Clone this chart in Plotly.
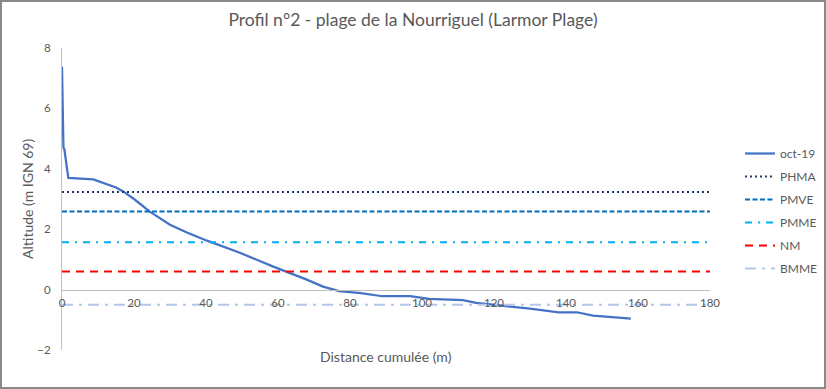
import plotly.graph_objects as go

# ---- data ----
distance = [0, 0.4, 0.65, 1.75, 8.7, 12, 15, 17, 20, 24.4, 30, 34.7, 40.3, 49.4, 58.7,
            68, 72.5, 77, 83, 89, 96.7, 102, 111.4, 115, 122.5, 130, 138, 143, 147.5, 153, 158]
altitude = [7.38, 4.7, 4.65, 3.7, 3.65, 3.52, 3.38, 3.25, 3.0, 2.58, 2.15, 1.89, 1.62, 1.22, 0.76,
            0.33, 0.1, -0.05, -0.12, -0.22, -0.22, -0.31, -0.35, -0.44, -0.53, -0.63, -0.75, -0.75, -0.86, -0.9, -0.96]
series_name = "oct-19"

level_names = ["PHMA", "PMVE", "PMME", "NM", "BMME"]
level_values = [3.23, 2.59, 1.57, 0.6, -0.5]
level_span = [0, 180]

x_ticks = list(range(0, 181, 20))
y_ticks = list(range(-2, 9, 2))

title = "Profil n°2 - plage de la Nourriguel (Larmor Plage)"
x_title = "Distance cumulée (m)"
y_title = "Altitude (m IGN 69)"

# ---- styles ----
FONT = "Lato, Carlito, Calibri, sans-serif"
TXT = "#595959"
level_styles = {
    "PHMA": dict(color="#203864", dash="2px,3px", width=2),
    "PMVE": dict(color="#0070C0", dash="5px,2.5px", width=2),
    "PMME": dict(color="#00B0F0", dash="7px,6px,2px,6px", width=2),
    "NM": dict(color="#FF0000", dash="8px,6px", width=2),
    "BMME": dict(color="#B4C7E7", dash="11px,6px,3px,6px", width=2),
}

W, H = 826, 389
L, R, T, B = 62, 116, 48, 39
pw, ph = W - L - R, H - T - B

def px_x(px):
    return (px - L) / pw

def px_y(py):
    return (H - B - py) / ph

fig = go.Figure()
fig.add_trace(go.Scatter(x=distance, y=altitude, mode="lines", name=series_name,
                         line=dict(color="#4472C4", width=2.25), legendgroup=series_name))
for name, val in zip(level_names, level_values):
    fig.add_trace(go.Scatter(x=level_span, y=[val, val], mode="lines", name=name,
                             line=level_styles[name], legendgroup=name))

ymin, ymax = y_ticks[0], y_ticks[-1]

fig.update_layout(
    width=W, height=H,
    margin=dict(l=L, r=R, t=T, b=B, autoexpand=False),
    paper_bgcolor="white", plot_bgcolor="white",
    font=dict(family=FONT, color=TXT),
    title=dict(text=title, x=0.5, xanchor="center", xref="container",
               y=1 - 20 / H, yanchor="middle", yref="container",
               font=dict(size=17.5, color=TXT, family=FONT)),
    xaxis=dict(range=[x_ticks[0], x_ticks[-1]], tickvals=x_ticks, showgrid=False,
               zeroline=False, showline=True, linecolor="#BFBFBF", linewidth=1,
               anchor="free", position=(0 - ymin) / (ymax - ymin), automargin=False,
               ticks="outside", ticklen=3, tickcolor="rgba(0,0,0,0)",
               tickfont=dict(size=11.5, color=TXT)),
    yaxis=dict(range=[ymin, ymax], tickvals=y_ticks, showgrid=False, zeroline=False,
               showline=True, linecolor="#BFBFBF", linewidth=1, automargin=False,
               ticks="outside", ticklen=8, tickcolor="rgba(0,0,0,0)",
               tickfont=dict(size=11.5, color=TXT)),
    legend=dict(x=px_x(740), y=px_y(139), xanchor="left", yanchor="top",
                font=dict(size=12, color=TXT), tracegroupgap=4,
                bgcolor="rgba(0,0,0,0)"),
    showlegend=True,
    annotations=[
        dict(text=x_title, xref="paper", yref="paper", x=0.5, y=px_y(356),
             xanchor="center", yanchor="middle", showarrow=False,
             font=dict(size=14, color=TXT, family=FONT)),
        dict(text=y_title, xref="paper", yref="paper", x=px_x(27), y=0.5,
             xanchor="center", yanchor="middle", showarrow=False, textangle=-90,
             font=dict(size=14, color=TXT, family=FONT)),
    ],
    shapes=[
        dict(type="rect", xref="paper", yref="paper",
             x0=px_x(1), x1=px_x(825), y0=px_y(388), y1=px_y(1),
             line=dict(color="#898989", width=2), layer="above"),
    ],
)

fig.write_html("out.html", config={"displayModeBar": False},
               post_script="document.body.style.margin='0';")
